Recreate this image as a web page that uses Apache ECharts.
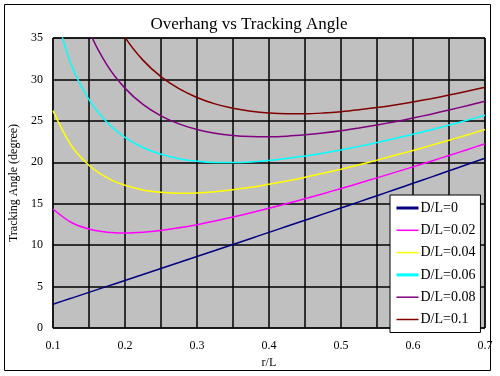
<!DOCTYPE html>
<html>
<head>
<meta charset="utf-8">
<script src="https://cdn.jsdelivr.net/npm/echarts@6/dist/echarts.min.js"></script>
<style>
  html, body { margin: 0; padding: 0; background: #fff; }
  #chart { width: 500px; height: 376px; }
</style>
</head>
<body>
<div id="chart"></div>
<script>
const xValues = [0.1, 0.125, 0.15, 0.175, 0.2, 0.225, 0.25, 0.275, 0.3, 0.325, 0.35, 0.375, 0.4,
  0.425, 0.45, 0.475, 0.5, 0.525, 0.55, 0.575, 0.6, 0.625, 0.65, 0.675, 0.7];

const dl0 = [2.87, 3.58, 4.30, 5.02, 5.74, 6.46, 7.18, 7.90, 8.63, 9.35, 10.08, 10.81, 11.54,
  12.27, 13.00, 13.74, 14.48, 15.22, 15.96, 16.71, 17.46, 18.21, 18.97, 19.73, 20.49];
const dl002 = [14.36, 12.76, 11.95, 11.57, 11.48, 11.57, 11.78, 12.09, 12.47, 12.91, 13.39, 13.90, 14.45,
  15.02, 15.60, 16.21, 16.83, 17.47, 18.12, 18.78, 19.45, 20.13, 20.82, 21.52, 22.23];
const dl004 = [26.23, 22.09, 19.65, 18.15, 17.22, 16.66, 16.37, 16.26, 16.30, 16.45, 16.68, 16.98, 17.34,
  17.74, 18.19, 18.67, 19.17, 19.71, 20.26, 20.84, 21.43, 22.04, 22.66, 23.30, 23.95];
const dl006 = [39.2, 31.88, 27.58, 24.84, 23.02, 21.79, 20.97, 20.44, 20.12, 19.97, 19.96, 20.04, 20.21,
  20.45, 20.75, 21.10, 21.49, 21.92, 22.39, 22.88, 23.39, 23.93, 24.49, 25.07, 25.67];
const dl008 = [54.9, 42.60, 35.94, 31.76, 28.95, 26.99, 25.61, 24.63, 23.95, 23.50, 23.23, 23.10, 23.08,
  23.15, 23.31, 23.53, 23.80, 24.13, 24.50, 24.90, 25.34, 25.81, 26.31, 26.83, 27.37];
const dl010 = [null, 55.34, 45.10, 39.08, 35.10, 32.33, 30.33, 28.88, 27.82, 27.05, 26.52, 26.16, 25.94,
  25.85, 25.85, 25.94, 26.10, 26.33, 26.60, 26.92, 27.28, 27.68, 28.11, 28.57, 29.06];

const seriesNames = ['D/L=0', 'D/L=0.02', 'D/L=0.04', 'D/L=0.06', 'D/L=0.08', 'D/L=0.1'];
const seriesValues = [dl0, dl002, dl004, dl006, dl008, dl010];
const seriesColors = ['#000080', '#ff00ff', '#ffff00', '#00ffff', '#800080', '#800000'];
const legendLineWidths = [3, 1.5, 1.5, 3, 1.5, 1.5];
const xTickLabels = ['0.1', '0.2', '0.3', '0.4', '0.5', '0.6', '0.7'];

const serif = "'Liberation Serif', 'DejaVu Serif', serif";

const chart = echarts.init(document.getElementById('chart'));

const option = {
  backgroundColor: '#fff',
  animation: false,
  title: {
    text: 'Overhang vs Tracking Angle',
    left: 244,
    top: 11,
    textAlign: 'center',
    textStyle: { fontFamily: serif, fontSize: 17, fontWeight: 'normal', color: '#000' },
  },
  graphic: [
    {
      type: 'rect',
      shape: { x: 4.5, y: 4.5, width: 486, height: 366 },
      style: { fill: 'none', stroke: '#000', lineWidth: 1 },
      silent: true,
    },
  ],
  grid: {
    left: 46,
    right: 15,
    top: 38,
    bottom: 48,
    show: true,
    backgroundColor: '#c0c0c0',
    borderColor: '#000',
    borderWidth: 1,
  },
  legend: {
    orient: 'vertical',
    left: 390,
    top: 195,
    padding: [6, 5, 6, 5],
    itemWidth: 22,
    itemHeight: 14,
    itemGap: 8.3,
    backgroundColor: '#fff',
    borderColor: '#000',
    borderWidth: 1,
    itemStyle: { opacity: 0 },
    textStyle: { fontFamily: serif, fontSize: 14, color: '#000', padding: [0, 0, 0, -3] },
    data: seriesNames.map((name, i) => ({
      name,
      lineStyle: { width: legendLineWidths[i] },
    })),
  },
  xAxis: {
    type: 'value',
    min: 0.1,
    max: 0.7,
    interval: 0.05,
    name: 'r/L',
    nameLocation: 'middle',
    nameGap: 24,
    nameTextStyle: { fontFamily: serif, fontSize: 12, color: '#000' },
    axisLine: { show: false },
    axisTick: { show: false },
    axisLabel: {
      margin: 12,
      fontFamily: serif,
      fontSize: 12,
      color: '#000',
      formatter: (v) => {
        const s = String(Math.round(v * 100) / 100);
        return xTickLabels.includes(s) ? s : '';
      },
    },
    splitLine: { show: true, lineStyle: { color: '#000', width: 1.5 } },
  },
  yAxis: {
    type: 'value',
    min: 0,
    max: 35,
    interval: 5,
    name: 'Tracking Angle (degree)',
    nameLocation: 'middle',
    nameGap: 26,
    nameTextStyle: { fontFamily: serif, fontSize: 12, color: '#000' },
    axisLine: { show: false },
    axisTick: { show: false },
    axisLabel: { margin: 10, fontFamily: serif, fontSize: 12, color: '#000' },
    splitLine: { show: true, lineStyle: { color: '#000', width: 1.5 } },
  },
  series: seriesNames.map((name, i) => ({
    name,
    type: 'line',
    smooth: 0.3,
    symbol: 'none',
    clip: true,
    data: xValues.map((x, j) => [x, seriesValues[i][j]]),
    lineStyle: { color: seriesColors[i], width: 1.5 },
    itemStyle: { color: seriesColors[i] },
  })),
};

chart.setOption(option);
</script>
</body>
</html>
